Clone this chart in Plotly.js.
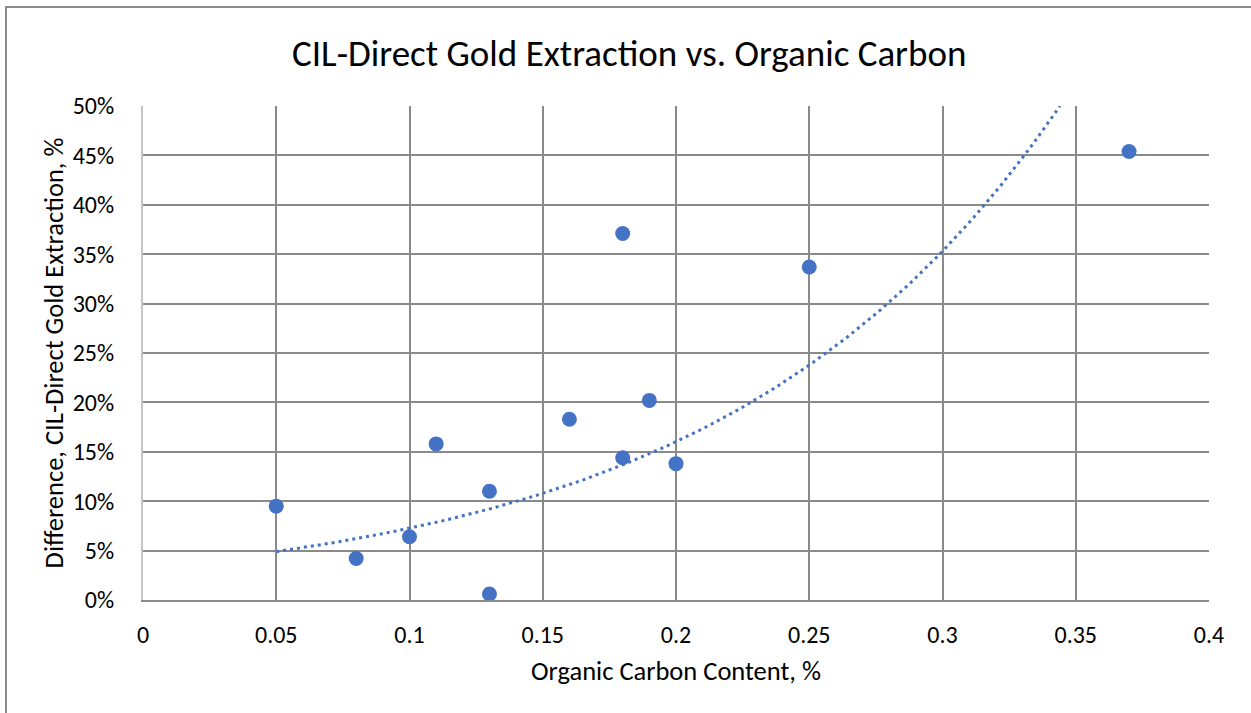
<!DOCTYPE html>
<html>
<head>
<meta charset="utf-8">
<script src="https://cdn.plot.ly/plotly-3.0.1.min.js"></script>
<style>
  html, body { margin: 0; padding: 0; background: #fff; overflow: hidden; }
  #frame { position: absolute; left: 5px; top: 6px; width: 1300px; height: 800px;
           border-left: 2px solid #8c8c8c; border-top: 2px solid #8c8c8c; pointer-events: none; z-index: 5; }
  #chart { position: absolute; left: 0; top: 0; width: 1251px; height: 713px; }
</style>
</head>
<body>
<div id="chart"></div>
<div id="frame"></div>
<script>
// Organic carbon content (%) and CIL - direct gold extraction difference (fraction)
const organicCarbon = [0.05, 0.08, 0.10, 0.11, 0.13, 0.13, 0.16, 0.18, 0.18, 0.19, 0.20, 0.25, 0.37];
const extractionDiff = [0.095, 0.042, 0.064, 0.158, 0.110, 0.006, 0.183, 0.371, 0.144, 0.202, 0.138, 0.337, 0.454];
const xTickVals = [0, 0.05, 0.1, 0.15, 0.2, 0.25, 0.3, 0.35, 0.4];
const xTickText = ["0", "0.05", "0.1", "0.15", "0.2", "0.25", "0.3", "0.35", "0.4"];
const yTickVals = [0, 0.05, 0.1, 0.15, 0.2, 0.25, 0.3, 0.35, 0.4, 0.45, 0.5];
const yTickText = ["0%", "5%", "10%", "15%", "20%", "25%", "30%", "35%", "40%", "45%", "50%"];

// Exponential trendline (least squares on ln y), as in a spreadsheet trendline
const n = organicCarbon.length;
const lny = extractionDiff.map(v => Math.log(v));
const mx = organicCarbon.reduce((a, b) => a + b, 0) / n;
const my = lny.reduce((a, b) => a + b, 0) / n;
let sxy = 0, sxx = 0;
for (let i = 0; i < n; i++) { sxy += (organicCarbon[i] - mx) * (lny[i] - my); sxx += (organicCarbon[i] - mx) ** 2; }
const b = sxy / sxx;
const a = Math.exp(my - b * mx);
const xMin = Math.min(...organicCarbon);
const xEnd = Math.log(0.5 / a) / b;
const trendX = [], trendY = [];
for (let i = 0; i <= 200; i++) { const x = xMin + (xEnd - xMin) * i / 200; trendX.push(x); trendY.push(a * Math.exp(b * x)); }

const FONT = "Carlito, Calibri, Lato, 'Open Sans', sans-serif";
const blue = "#4472C4";

const traces = [
  { x: trendX, y: trendY, type: "scatter", mode: "lines", line: { color: blue, width: 3, dash: "3px,4px" }, hoverinfo: "skip", showlegend: false },
  { x: organicCarbon, y: extractionDiff, type: "scatter", mode: "markers", marker: { color: blue, size: 15 }, showlegend: false }
];

const layout = {
  width: 1251, height: 713,
  margin: { l: 143, r: 42, t: 106, b: 113 },
  paper_bgcolor: "#ffffff", plot_bgcolor: "#ffffff",
  font: { family: FONT, size: 24, color: "#000" },
  title: { text: "CIL-Direct Gold Extraction vs. Organic Carbon", font: { family: FONT, size: 37, color: "#000" }, x: 0.503, xanchor: "center", y: 0.926, yanchor: "middle" },
  xaxis: {
    range: [0, 0.4], tickvals: xTickVals, ticktext: xTickText,
    showgrid: true, gridcolor: "#8a8a8a", gridwidth: 2,
    zeroline: false, showline: true, linecolor: "#8a8a8a", linewidth: 2, mirror: false,
    ticks: "", ticklabelstandoff: 12,
    tickfont: { family: FONT, size: 24, color: "#000" },
    title: { text: "Organic Carbon Content, %", font: { family: FONT, size: 26.5, color: "#000" }, standoff: 14 }
  },
  yaxis: {
    range: [0, 0.5], tickvals: yTickVals, ticktext: yTickText,
    showgrid: true, gridcolor: "#8a8a8a", gridwidth: 2,
    zeroline: false, showline: true, linecolor: "#c4c4c4", linewidth: 2,
    ticks: "", ticklabelstandoff: 22,
    tickfont: { family: FONT, size: 24, color: "#000" },
    title: { text: "Difference, CIL-Direct Gold Extraction, %", font: { family: FONT, size: 26.5, color: "#000" }, standoff: 1 }
  }
};

Plotly.newPlot("chart", traces, layout, { displayModeBar: false, staticPlot: true });
</script>
</body>
</html>
